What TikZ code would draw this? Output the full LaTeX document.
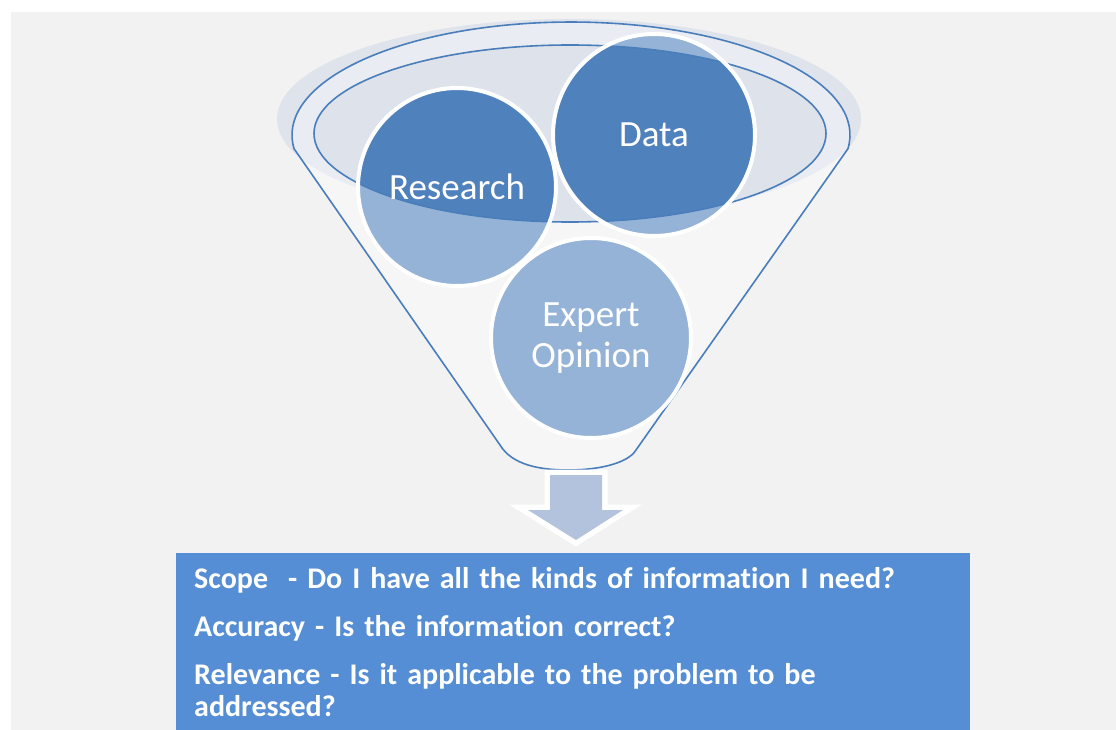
\documentclass[tikz,border=0pt]{standalone}
\usepackage{fontspec}
\setmainfont{Carlito}[Ligatures=CommonOff]
\definecolor{bggray}{HTML}{F2F2F2}
\definecolor{halofill}{HTML}{DEE3EC}
\definecolor{innerfill}{HTML}{DDE2EB}
\definecolor{rimblue}{HTML}{4A7EBB}
\definecolor{darkblue}{HTML}{4F81BD}
\definecolor{lightblue}{HTML}{95B3D7}
\definecolor{arrowfill}{HTML}{B3C3DE}
\definecolor{boxblue}{HTML}{558ED5}
\begin{document}
\begin{tikzpicture}[x=1pt, y=-1pt,
    rimline/.style={draw=rimblue, line width=1.6pt},
    bubble/.style={circle, fill=lightblue, draw=white, line width=4pt, inner sep=0pt,
        minimum size=198pt, text=white, align=center, font=\fontsize{37}{40}\selectfont,
        path picture={
            \fill[darkblue] (innerc) ellipse [x radius=256, y radius=88.5];
            \draw[rimline] (innerc) ellipse [x radius=256, y radius=88.5];
        }},
    infobox/.style={rectangle, fill=boxblue, anchor=north west, inner xsep=18pt, inner ysep=0pt,
        minimum width=794pt, minimum height=177pt, text width=758pt, align=left,
        text=white, font=\bfseries\fontsize{30}{32}\selectfont}]
    \useasboundingbox (0,0) rectangle (1116,730);
    \fill[white] (0,0) rectangle (1116,730);
    \fill[bggray] (11,12) rectangle (1116,730);

    % Funnel
    \coordinate (haloc) at (569,119);
    \coordinate (innerc) at (570,133.5);
    \fill[halofill] (haloc) ellipse [x radius=292, y radius=100];
    \filldraw[fill=white, fill opacity=0.35, rimline] (294.1,148.8) -- (500,445)
        .. controls (512,465) and (540,470) .. (568,470)
        .. controls (600,470) and (628,463) .. (636,450) -- (847.9,148.8)
        arc [start angle=7, end angle=-187, x radius=279, y radius=113] -- cycle;
    \filldraw[fill=innerfill, rimline] (innerc) ellipse [x radius=256, y radius=88.5];

    % Sources
    \node[bubble] (research) at (457,187) {Research};
    \node[bubble, minimum size=202pt] (data) at (654,135) {Data};
    \node[bubble, minimum size=200pt] (expert) at (591,338) {Expert\\[1pt]Opinion};

    % Arrow
    \fill[arrowfill, preaction={draw=white, line width=11pt}]
        (550,475) -- (602,475) -- (602,510) -- (623,510) -- (576,540) -- (528,510) -- (550,510) -- cycle;

    % Criteria
    \node[infobox] (criteria) at (176,553) {%
        Scope\ \ - Do I have all the kinds of information I need?\\[16pt]
        Accuracy - Is the information correct?\\[16pt]
        Relevance - Is it applicable to the problem to be\\
        addressed?};
\end{tikzpicture}
\end{document}
